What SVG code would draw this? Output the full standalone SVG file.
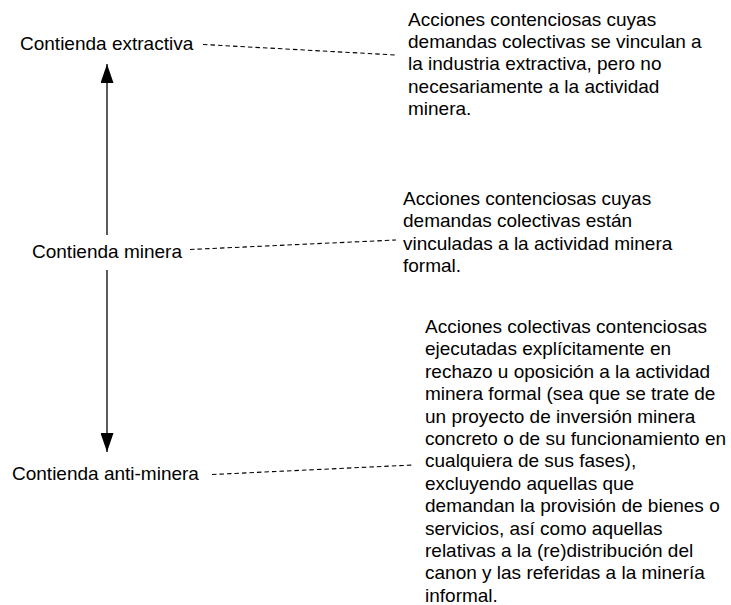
<svg xmlns="http://www.w3.org/2000/svg" width="731" height="605" viewBox="0 0 731 605">
<style>
text{font-family:"Liberation Sans",Arial,sans-serif;font-size:19px;fill:#000}
.dash{stroke:#000;stroke-width:1.1;stroke-dasharray:4.5,3;fill:none}
.axis{stroke:#000;stroke-width:1.3;fill:none}
</style>
<defs>
<marker id="ah" markerWidth="19" markerHeight="13" refX="19" refY="6.5" orient="auto" markerUnits="userSpaceOnUse" viewBox="0 0 19 13">
<path d="M0,0 L19,6.5 L0,13 Z" fill="#000"/>
</marker>
</defs>
<rect width="731" height="605" fill="#fff"/>
<g id="connectors">
<line class="axis" x1="107" y1="235" x2="107" y2="64" marker-end="url(#ah)"/>
<line class="axis" x1="107" y1="270" x2="107" y2="452" marker-end="url(#ah)"/>
<line class="dash" x1="203" y1="44.5" x2="396" y2="55"/>
<line class="dash" x1="190" y1="249.5" x2="396" y2="240"/>
<line class="dash" x1="212" y1="474.5" x2="413" y2="465"/>
</g>
<g id="n-extractiva"><text x="20" y="49.5">Contienda extractiva</text></g>
<g id="n-minera"><text x="32" y="258">Contienda minera</text></g>
<g id="n-antiminera"><text x="12" y="480">Contienda anti-minera</text></g>
<g id="d-extractiva">
<text x="408" y="25.5">Acciones contenciosas cuyas</text>
<text x="408" y="47.9">demandas colectivas se vinculan a</text>
<text x="408" y="70.3">la industria extractiva, pero no</text>
<text x="408" y="92.7">necesariamente a la actividad</text>
<text x="408" y="115.1">minera.</text>
</g>
<g id="d-minera">
<text x="403" y="205">Acciones contenciosas cuyas</text>
<text x="403" y="227.4">demandas colectivas están</text>
<text x="403" y="249.8">vinculadas a la actividad minera</text>
<text x="403" y="272.2">formal.</text>
</g>
<g id="d-antiminera">
<text x="425" y="333">Acciones colectivas contenciosas</text>
<text x="425" y="355.4">ejecutadas explícitamente en</text>
<text x="425" y="377.8">rechazo u oposición a la actividad</text>
<text x="425" y="400.2">minera formal (sea que se trate de</text>
<text x="425" y="422.6">un proyecto de inversión minera</text>
<text x="425" y="445">concreto o de su funcionamiento en</text>
<text x="425" y="467.4">cualquiera de sus fases),</text>
<text x="425" y="489.8">excluyendo aquellas que</text>
<text x="425" y="512.2">demandan la provisión de bienes o</text>
<text x="425" y="534.6">servicios, así como aquellas</text>
<text x="425" y="557">relativas a la (re)distribución del</text>
<text x="425" y="579.4">canon y las referidas a la minería</text>
<text x="425" y="601.8">informal.</text>
</g>
</svg>
